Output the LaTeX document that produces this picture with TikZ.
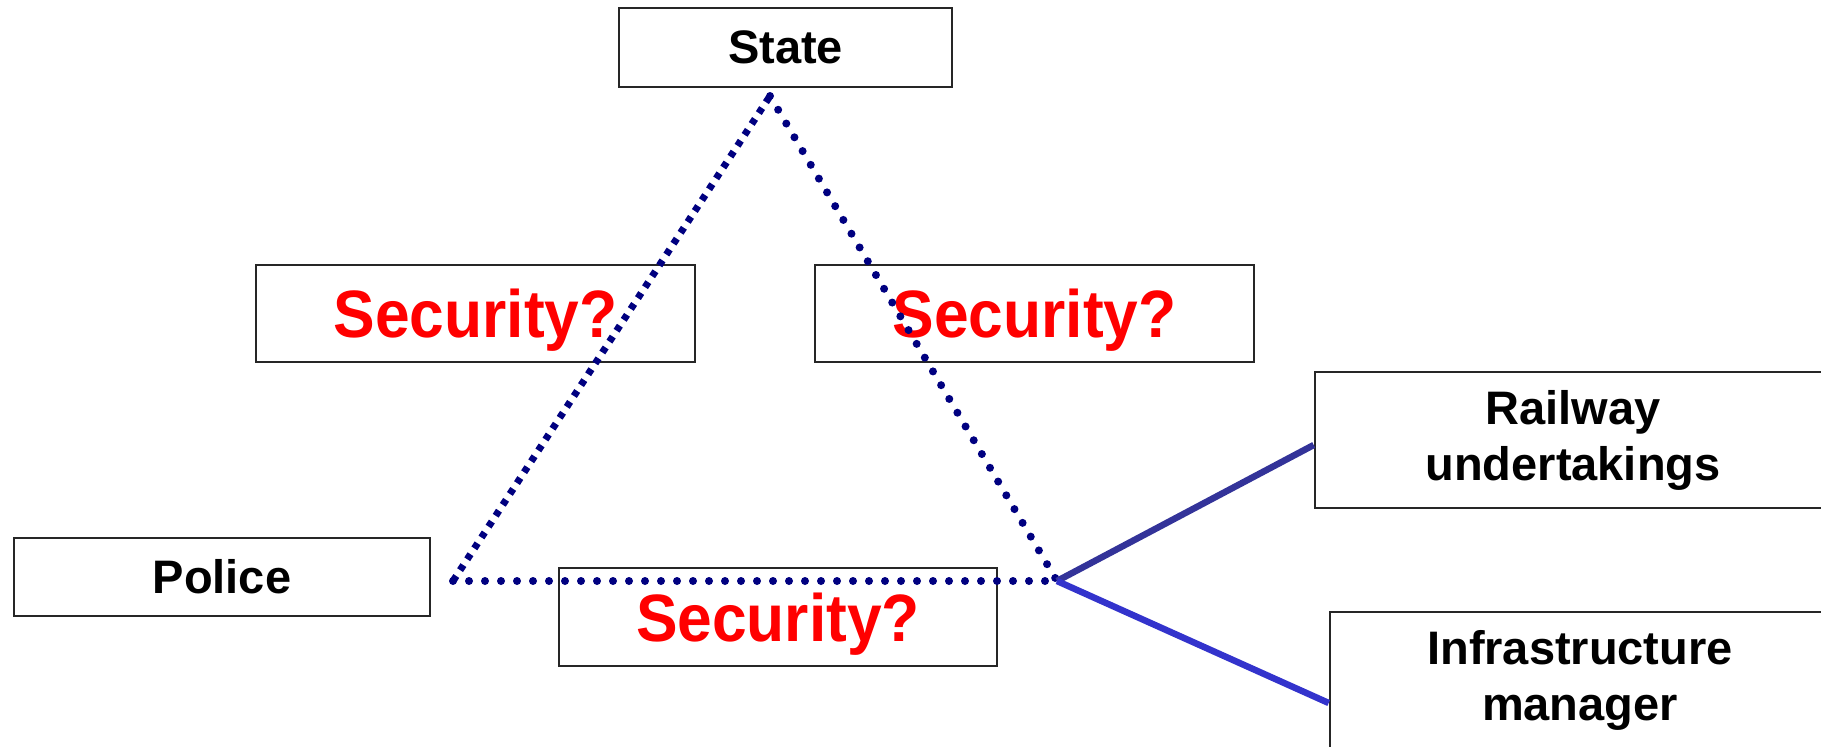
\documentclass[tikz,border=0pt]{standalone}
\usepackage{fontspec}
\setmainfont{Liberation Sans}
\usetikzlibrary{calc}
\definecolor{navy}{HTML}{000080}
\definecolor{linkA}{HTML}{333399}
\definecolor{linkB}{HTML}{3333CC}
\definecolor{qred}{HTML}{FF0000}
% question label, set slightly narrow and a little below the box centre
\newcommand{\askq}{\raisebox{-7pt}[\height][\depth]{\scalebox{0.93}[1]{Security?}}}
\tikzset{
  box/.style={draw=black!85, line width=2.6pt, rectangle, inner sep=0pt,
    align=center, font=\bfseries\fontsize{47}{56}\selectfont},
  qbox/.style={box, text=qred, font=\bfseries\fontsize{67}{70}\selectfont},
  squaredots/.style={navy, line width=7pt, dash pattern=on 6pt off 7pt},
  rounddots/.style={navy, line width=8pt, line cap=round, dash pattern=on 0pt off 16pt},
  link/.style={line width=6.5pt}
}
\begin{document}
\begin{tikzpicture}[x=1pt, y=-1pt]
  \useasboundingbox (0,0) rectangle (1821,747);
  \clip (0,0) rectangle (1821,747);

  % actors
  \node[box, minimum width=333pt, minimum height=79pt] (state) at (785.5,47.5) {State};
  \node[box, minimum width=416pt, minimum height=78pt] (police) at (222,577) {Police};
  \node[box, minimum width=516pt, minimum height=136pt] (rail) at (1573,440) {Railway\\undertakings};
  \node[box, minimum width=500pt, minimum height=136pt] (infra) at (1580,680) {Infrastructure\\manager};

  % open questions on each side of the triangle
  \node[qbox, minimum width=439pt, minimum height=97pt] (secL) at (475.5,313.5) {\askq};
  \node[qbox, minimum width=439pt, minimum height=97pt] (secR) at (1034.5,313.5) {\askq};
  \node[qbox, minimum width=438pt, minimum height=98pt] (secB) at (778,617) {\askq};

  % triangle corners
  \coordinate (apex) at (770,96);
  \coordinate (cl) at (453,581);
  \coordinate (cr) at (1057,581);

  \draw[squaredots] (cl) -- (apex);
  \draw[rounddots] (apex) -- (cr);
  \draw[rounddots] (cl) -- (cr);

  % links to the operators
  \draw[link, linkA] (cr) -- ($(rail.west)+(0,5)$);
  \draw[link, linkB] (cr) -- ($(infra.west)+(0,23)$);
\end{tikzpicture}
\end{document}
